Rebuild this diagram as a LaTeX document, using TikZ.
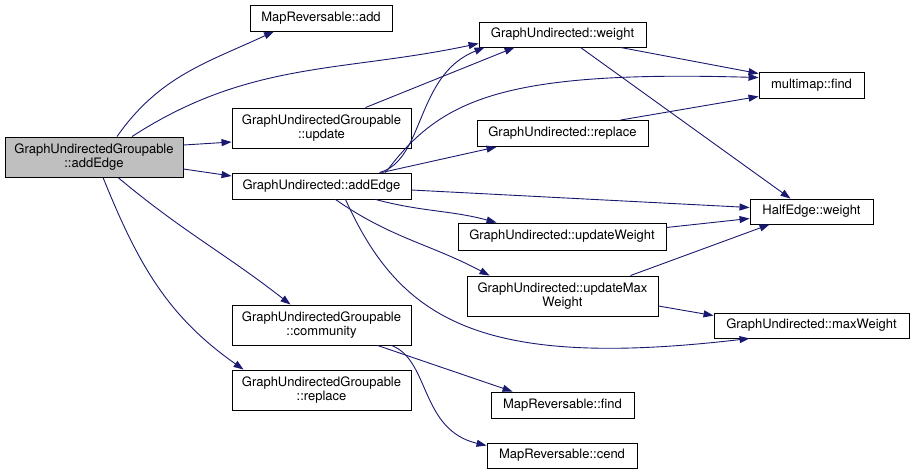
\documentclass[tikz,border=0pt]{standalone}
\usepackage{fontspec}
\setmainfont{TeX Gyre Heros}
\usepackage{xcolor}
\usetikzlibrary{arrows.meta}
\definecolor{edgeblue}{HTML}{191970}
\definecolor{rootgray}{HTML}{BFBFBF}

\begin{document}
\begin{tikzpicture}[x=1pt, y=-1pt, font=\fontsize{13}{14.5}\selectfont, every node/.style={inner sep=0pt}]
        \tikzset{
            box/.style={draw, line width=0.9pt, align=center, minimum height=26pt, fill=white},
            tall/.style={box, minimum height=40pt},
            arr/.style={-{Triangle[length=10pt, width=7pt]}, draw=edgeblue, line width=0.9pt}
        }
        \useasboundingbox (0,0) rectangle (915,475);

        \node[tall, fill=rootgray, minimum width=178pt] (root) at (94,157) {GraphUndirectedGroupable\\::addEdge};
        \node[box, minimum width=142pt] (madd) at (321,18) {MapReversable::add};
        \node[tall, minimum width=179pt] (upd) at (321.5,128) {GraphUndirectedGroupable\\::update};
        \node[box, minimum width=179pt] (gadd) at (321.5,186) {GraphUndirected::addEdge};
        \node[tall, minimum width=179pt] (comm) at (321.5,325) {GraphUndirectedGroupable\\::community};
        \node[tall, minimum width=179pt] (crep) at (321.5,390) {GraphUndirectedGroupable\\::replace};
        \node[box, minimum width=167pt, minimum height=25pt] (gw) at (562.5,34.5) {GraphUndirected::weight};
        \node[box, minimum width=171pt] (grep) at (562.5,133.5) {GraphUndirected::replace};
        \node[box, minimum width=208pt, minimum height=27pt] (uw) at (562,236.5) {GraphUndirected::updateWeight};
        \node[tall, minimum width=191pt] (umw) at (562.5,296) {GraphUndirected::updateMax\\Weight};
        \node[box, minimum width=143pt] (rfind) at (562.5,405) {MapReversable::find};
        \node[box, minimum width=150pt, minimum height=25pt] (cend) at (562,455.5) {MapReversable::cend};
        \node[box, minimum width=105pt] (mfind) at (811.5,85) {multimap::find};
        \node[box, minimum width=123pt, minimum height=25pt] (hw) at (811.5,211.5) {HalfEdge::weight};
        \node[box, minimum width=195pt, minimum height=25pt] (maxw) at (811.5,325.5) {GraphUndirected::maxWeight};

        \draw[arr] ([xshift=23]root.north) to[out=55, in=205] ([xshift=-47]madd.south);
        \draw[arr] ([xshift=38]root.north) to[out=33, in=192] ([yshift=-9]gw.west);
        \draw[arr] ([yshift=12]root.east) -- ([yshift=-14]upd.west);
        \draw[arr] ([yshift=-12]root.east) -- ([yshift=10]gadd.west);
        \draw[arr] ([xshift=24]root.south) to[out=-40, in=142] ([xshift=-31]comm.north);
        \draw[arr] ([xshift=9]root.south) to[out=-68, in=145] ([xshift=12]crep.north west);

        \draw[arr] ([xshift=44]upd.north) -- ([xshift=36]gw.south west);

        % addEdge fans out to most of the right-hand column
        \draw[arr] ([xshift=58]gadd.north) .. controls (425,160) and (415,75) .. ([xshift=6]gw.south west);
        \draw[arr] ([xshift=64]gadd.north) .. controls (440,100) and (500,70) .. ([yshift=-6]mfind.north west);
        \draw[arr] ([xshift=60]gadd.north) -- ([xshift=20]grep.south west);
        \draw[arr] ([yshift=-4]gadd.east) -- ([yshift=4]hw.west);
        \draw[arr] ([xshift=54]gadd.south) to[out=-15, in=165] ([xshift=39]uw.north west);
        \draw[arr] ([xshift=14]gadd.south) to[out=-35, in=152] ([xshift=23]umw.north west);
        \draw[arr] ([xshift=24]gadd.south) .. controls (400,320) and (480,370) .. ([xshift=36]maxw.south west);

        \draw[arr] ([xshift=-26]gw.south east) -- ([yshift=-2]mfind.north west);
        \draw[arr] ([xshift=18]gw.south) -- ([xshift=-21]hw.north);
        \draw[arr] ([xshift=-28]grep.north east) -- ([yshift=2]mfind.south west);
        \draw[arr] ([yshift=9]uw.east) -- ([yshift=-7]hw.west);
        \draw[arr] ([xshift=-28]umw.north east) -- ([xshift=20]hw.south west);
        \draw[arr] ([yshift=-10]umw.east) -- ([yshift=-3]maxw.north west);

        \draw[arr] ([xshift=56]comm.south) -- ([xshift=22]rfind.north west);
        \draw[arr] ([xshift=70]comm.south) .. controls (430,360) and (420,430) .. ([yshift=-3]cend.north west);
    \end{tikzpicture}
\end{document}
